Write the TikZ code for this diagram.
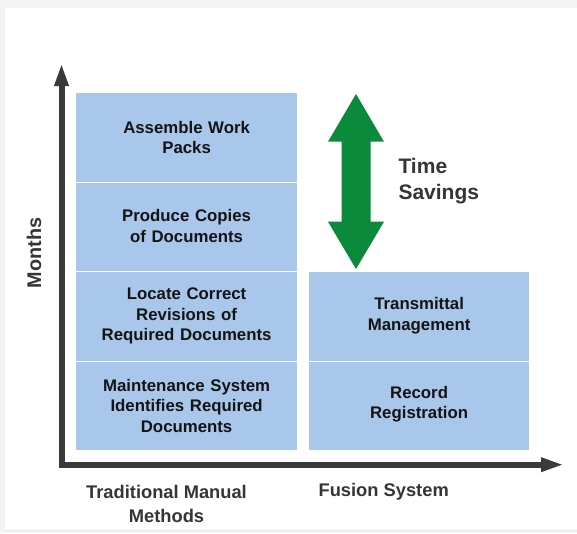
\documentclass[tikz,border=0pt]{standalone}
\usepackage{fontspec}
\setmainfont{Liberation Sans}
\usetikzlibrary{arrows.meta,shadows}
\definecolor{boxblue}{HTML}{A9C7EA}
\definecolor{savegreen}{HTML}{0A8A3A}
\definecolor{axisgrey}{HTML}{3A3A3A}
\definecolor{labelgrey}{HTML}{353535}
\definecolor{pagegrey}{HTML}{F3F3F3}
\tikzset{
  cell/.style={fill=boxblue, draw=white, line width=1.2pt, minimum width=222pt, minimum height=89.5pt, inner sep=0pt, anchor=north west},
  celltext/.style={text width=200pt, align=center, inner sep=0pt, font=\fontsize{16.8}{20.5}\selectfont\bfseries, text=black!92},
  axislabel/.style={font=\fontsize{18.3}{24}\selectfont\bfseries, text=labelgrey, align=center},
  axisline/.style={draw=axisgrey, line width=6pt, line join=miter,
    arrows={Triangle[length=23pt,width=13pt]-Triangle[length=23pt,width=13pt]}}
}
\begin{document}
\begin{tikzpicture}[x=1pt,y=-1pt]
\useasboundingbox (0,0) rectangle (577,533);
\fill[pagegrey] (0,0) rectangle (577,533);
\fill[white, drop shadow={opacity=0.12, shadow xshift=0pt, shadow yshift=-1pt}] (5,8) rectangle (577,530);
% axes
\coordinate (ytop) at (61.5,63);
\coordinate (origin) at (61.5,464.7);
\coordinate (xend) at (564,464.7);
\draw[axisline] (ytop) -- (origin) -- (xend);
% left column
\node[cell] (a1) at (75,92) {};
\node[cell] (a2) at (75,181.5) {};
\node[cell] (a3) at (75,271) {};
\node[cell] (a4) at (75,360.5) {};
\node[celltext] (a1t) at (a1.center) {Assemble Work\\Packs};
\node[celltext] (a2t) at ([yshift=1pt]a2.center) {Produce Copies\\of Documents};
\node[celltext] (a3t) at (a3.center) {Locate Correct\\Revisions of\\Required Documents};
\node[celltext] (a4t) at (a4.center) {Maintenance System\\Identifies Required\\Documents};
% right column
\node[cell, minimum width=221pt] (b1) at (308,271) {};
\node[cell, minimum width=221pt] (b2) at (308,360.5) {};
\node[celltext] (b1t) at ([yshift=0.5pt]b1.center) {Transmittal\\Management};
\node[celltext] (b2t) at ([yshift=1.5pt]b2.center) {Record\\Registration};
% green double arrow
\fill[savegreen] (356,94) -- (384,141.7) -- (370.5,141.7) -- (370.5,221.7) -- (384,221.7) -- (356,269)
  -- (328,221.7) -- (341.5,221.7) -- (341.5,141.7) -- (328,141.7) -- cycle;
\node[anchor=west, align=left, font=\fontsize{21}{26.5}\selectfont\bfseries, text=labelgrey] (ts) at (395,181) {Time\\Savings};
% axis labels
\node[axislabel] (lx1) at (166.5,504) {Traditional Manual\\Methods};
\node[axislabel] (lx2) at (383.7,491.7) {Fusion System};
\node[axislabel, font=\fontsize{19.8}{24}\selectfont\bfseries, rotate=90] (ly) at (34,253) {Months};
\end{tikzpicture}
\end{document}
